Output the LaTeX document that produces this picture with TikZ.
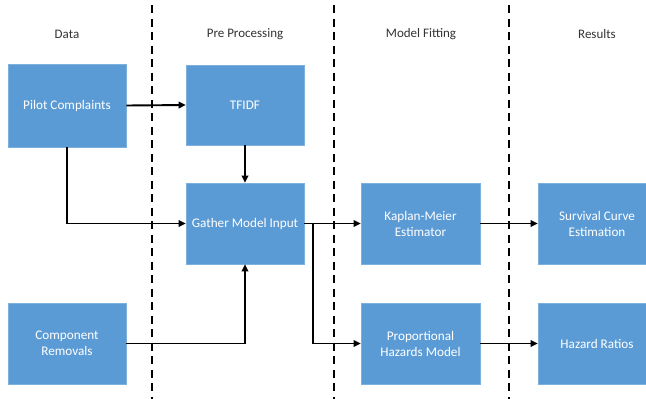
\documentclass[tikz,border=0pt]{standalone}
\usepackage{fontspec}
\setmainfont{Carlito}
\usetikzlibrary{arrows.meta}
\definecolor{boxblue}{HTML}{5B9BD5}
\definecolor{boxedge}{HTML}{7EB0DE}
\definecolor{headgray}{HTML}{333333}
\tikzset{
  stage/.style={fill=boxblue, draw=boxedge, line width=0.6pt, text=white,
    minimum width=118pt, minimum height=81pt, inner sep=2pt, align=center,
    font=\fontsize{13.2}{16}\selectfont},
  header/.style={text=headgray, font=\fontsize{13}{15}\selectfont},
  flow/.style={line width=1.9pt, -{Triangle[length=7pt,width=6.5pt]}},
  divider/.style={line width=2.2pt, dash pattern=on 8pt off 5.5pt},
}
\begin{document}
\begin{tikzpicture}[x=1pt,y=-1pt]
  \clip (0,0) rectangle (646,399);
  \fill[white] (0,0) rectangle (646,399);

  % column headers
  \node[header] (hdata) at (67,34) {Data};
  \node[header] (hpre)  at (245,34) {Pre Processing};
  \node[header] (hfit)  at (421,34) {Model Fitting};
  \node[header] (hres)  at (597,34) {Results};

  % column dividers
  \coordinate (d1t) at (152,5);  \coordinate (d1b) at (152,399);
  \coordinate (d2t) at (334,5);  \coordinate (d2b) at (334,399);
  \coordinate (d3t) at (509,5);  \coordinate (d3b) at (509,399);
  \draw[divider] (d1t) -- (d1b);
  \draw[divider] (d2t) -- (d2b);
  \draw[divider] (d3t) -- (d3b);

  % stages
  \node[stage, minimum height=83pt] (pc) at (67,105.5) {Pilot Complaints};
  \node[stage, minimum height=80pt] (tf) at (245,105) {TFIDF};
  \node[stage] (gm) at (245,223.5) {Gather Model Input};
  \node[stage] (cr) at (67,343.5) {Component\\Removals};
  \node[stage, minimum width=119pt] (km) at (420.5,223.5) {Kaplan-Meier\\Estimator};
  \node[stage, minimum width=119pt] (ph) at (420.5,343.5) {Proportional\\Hazards Model};
  \node[stage] (sc) at (597,223.5) {Survival Curve\\Estimation};
  \node[stage] (hr) at (597,343.5) {Hazard Ratios};

  % connectors
  \coordinate (br) at (313,223.5);
  \draw[flow] (pc.east) -- (tf.west);
  \draw[flow] (tf.south) -- (gm.north);
  \draw[flow] (pc.south) |- (gm.west);
  \draw[flow] (cr.east) -| (gm.south);
  \draw[flow] (gm.east) -- (km.west);
  \draw[flow] (br) |- (ph.west);
  \draw[flow] (km.east) -- (sc.west);
  \draw[flow] (ph.east) -- (hr.west);
\end{tikzpicture}
\end{document}
